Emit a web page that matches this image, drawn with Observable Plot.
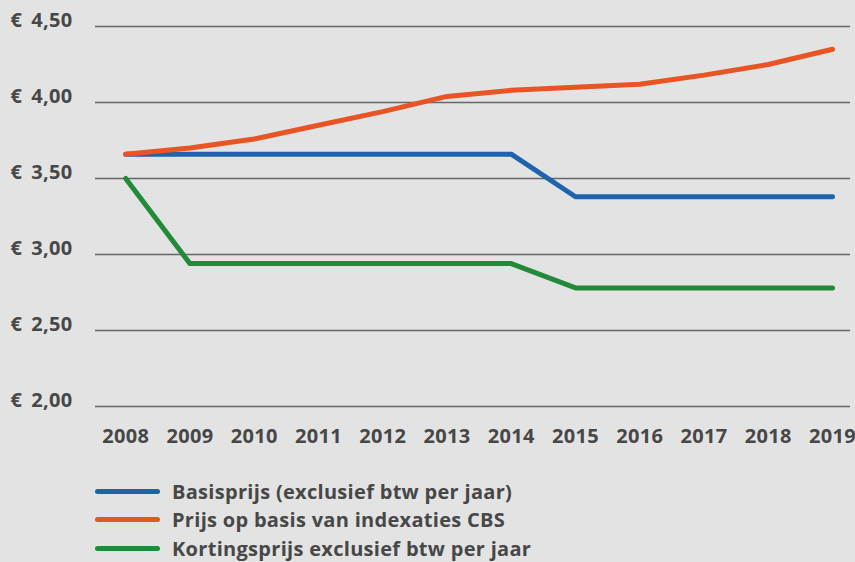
<!DOCTYPE html>
<html>
<head>
<meta charset="utf-8">
<script src="https://cdn.jsdelivr.net/npm/d3@7"></script>
<script src="https://cdn.jsdelivr.net/npm/@observablehq/plot@0.6"></script>
<style>
  html, body { margin: 0; padding: 0; background: #e3e3e3; }
  body { width: 855px; height: 562px; overflow: hidden; font-family: "Open Sans", sans-serif; }
  #legend { padding-top: 17px; }
  .item { display: flex; align-items: center; height: 28.5px; }
  .swatch { margin-left: 95px; width: 65px; height: 5px; border-radius: 3px; }
  .label { margin-left: 12px; font-size: 20px; font-weight: 700; color: #474747; letter-spacing: 0.3px; }
  svg text { letter-spacing: 0.3px; }
</style>
</head>
<body>
<div id="chart"></div>
<div id="legend"></div>
<script>
const years = [2008, 2009, 2010, 2011, 2012, 2013, 2014, 2015, 2016, 2017, 2018, 2019];
const seriesNames = [
  "Basisprijs (exclusief btw per jaar)",
  "Prijs op basis van indexaties CBS",
  "Kortingsprijs exclusief btw per jaar"
];
const basisprijs = [3.66, 3.66, 3.66, 3.66, 3.66, 3.66, 3.66, 3.38, 3.38, 3.38, 3.38, 3.38];
const indexatie  = [3.66, 3.70, 3.76, 3.85, 3.94, 4.04, 4.08, 4.10, 4.12, 4.18, 4.25, 4.35];
const korting    = [3.50, 2.94, 2.94, 2.94, 2.94, 2.94, 2.94, 2.78, 2.78, 2.78, 2.78, 2.78];
const yTicks = [2.0, 2.5, 3.0, 3.5, 4.0, 4.5];
const colors = ["#1f62ad", "#e85424", "#228b3a"];

const allSeries = [basisprijs, indexatie, korting];
const data = [];
allSeries.forEach((vals, i) => vals.forEach((v, j) => data.push({series: seriesNames[i], year: years[j], value: v})));

const fmt = d => "€\u2009 " + d.toFixed(2).replace(".", ",");

const chart = Plot.plot({
  width: 855,
  height: 460,
  marginTop: 26,
  marginBottom: 54,
  marginLeft: 95,
  marginRight: 5,
  style: { background: "#e3e3e3", fontFamily: "'Open Sans', sans-serif", color: "#474747" },
  x: { domain: [2007.53, 2019.28], axis: null },
  y: { domain: [2, 4.5], axis: null },
  color: { domain: seriesNames, range: colors },
  marks: [
    Plot.ruleY(yTicks, { stroke: "#666", strokeWidth: 1.6 }),
    Plot.axisY(yTicks, { label: null, tickSize: 0, tickPadding: 0, textAnchor: "start", dx: -85, dy: -6, tickFormat: fmt, fontSize: 20, fontWeight: 700, fill: "#474747" }),
    Plot.axisX(years, { label: null, tickSize: 0, tickPadding: 22, tickFormat: d => String(d), fontSize: 20, fontWeight: 700, fill: "#474747" }),
    Plot.line(data, { x: "year", y: "value", z: "series", stroke: "series", strokeWidth: 5, strokeLinejoin: "round", strokeLinecap: "round" })
  ]
});
document.getElementById("chart").appendChild(chart);

const legend = document.getElementById("legend");
seriesNames.forEach((name, i) => {
  const item = document.createElement("div");
  item.className = "item";
  item.innerHTML = `<div class="swatch" style="background:${colors[i]}"></div><div class="label">${name}</div>`;
  legend.appendChild(item);
});
</script>
</body>
</html>
